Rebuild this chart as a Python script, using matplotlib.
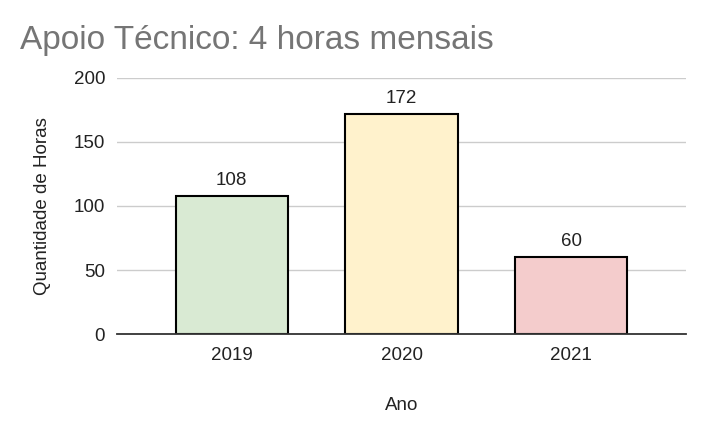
import matplotlib.pyplot as plt

plt.rcParams['font.family'] = ['Liberation Sans', 'DejaVu Sans']

# dados do grafico
anos = ['2019', '2020', '2021']
horas = [108, 172, 60]
cores = ['#d9ead3', '#fff2cc', '#f4cccc']
yticks = [0, 50, 100, 150, 200]

fig = plt.figure(figsize=(7.09, 4.38), dpi=100)
ax = fig.add_axes([0.165, 0.2374, 0.8026, 0.5846])

x = range(len(anos))
bars = ax.bar(x, horas, width=0.66, color=cores, edgecolor='black', linewidth=1.5, zorder=3)
for b, v in zip(bars, horas):
    ax.annotate(str(v), (b.get_x() + b.get_width() / 2, v), xytext=(0, 5),
                textcoords='offset points', ha='center', va='bottom',
                fontsize=13.5, color='#222222')

ax.set_xlim(-0.675, 2.675)
ax.set_ylim(0, 200)
ax.set_yticks(yticks)
ax.set_xticks(list(x))
ax.set_xticklabels(anos)
ax.tick_params(axis='both', length=0, labelsize=13.5, colors='#222222')
ax.tick_params(axis='y', pad=8.5)
ax.tick_params(axis='x', pad=9)
ax.grid(axis='y', color='#cccccc', linewidth=1, zorder=0)
for s in ['top', 'right', 'left']:
    ax.spines[s].set_visible(False)
ax.spines['bottom'].set_color('#333333')
ax.spines['bottom'].set_linewidth(1.3)
ax.spines['bottom'].set_zorder(4)

ax.set_xlabel('Ano', fontsize=13.5, color='#222222', labelpad=24)
ax.set_ylabel('Quantidade de Horas', fontsize=13.5, color='#222222', labelpad=16)

fig.text(0.028, 0.888, 'Apoio Técnico: 4 horas mensais', fontsize=24, color='#757575', ha='left', va='baseline')

fig.savefig('out.png', dpi=100)
